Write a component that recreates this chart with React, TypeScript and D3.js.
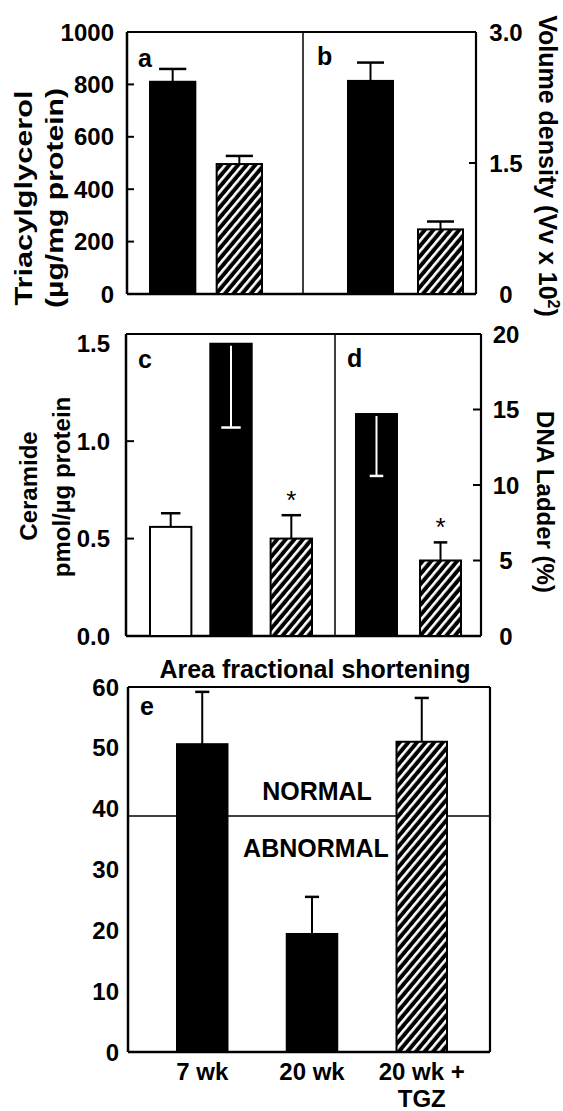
import React from 'react';
import * as d3 from 'd3';

const W = 563;
const H = 1111;
const FONT = '"Liberation Sans", Arial, Helvetica, sans-serif';

// panel a: triacylglycerol (µg/mg protein)
const tagGroups = ['20 wk', '20 wk + TGZ'];
const tagValues = [810, 496];
const tagErrors = [49, 31];
const tagFills = ['black', 'hatch'];
const tagTicks = [0, 200, 400, 600, 800, 1000];

// panel b: volume density (Vv x 10^2)
const volGroups = ['20 wk', '20 wk + TGZ'];
const volValues = [2.44, 0.74];
const volErrors = [0.21, 0.09];
const volFills = ['black', 'hatch'];
const volTicks = [0, 1.5, 3.0];

// panel c: ceramide (pmol/µg protein); negative error = drawn downwards in white
const cerGroups = ['7 wk', '20 wk', '20 wk + TGZ'];
const cerValues = [0.56, 1.5, 0.5];
const cerErrors = [0.07, -0.43, 0.12];
const cerFills = ['white', 'black', 'hatch'];
const cerStars = [false, false, true];
const cerTicks = [0, 0.5, 1.0, 1.5];

// panel d: DNA ladder (%)
const dnaGroups = ['20 wk', '20 wk + TGZ'];
const dnaValues = [14.7, 5.0];
const dnaErrors = [-4.1, 1.2];
const dnaFills = ['black', 'hatch'];
const dnaStars = [false, true];
const dnaTicks = [0, 5, 10, 15, 20];

// panel e: area fractional shortening
const afsGroups = ['7 wk', '20 wk', '20 wk + TGZ'];
const afsLabels = [['7 wk'], ['20 wk'], ['20 wk +', 'TGZ']];
const afsValues = [50.6, 19.4, 51.0];
const afsErrors = [8.6, 6.1, 7.2];
const afsFills = ['black', 'black', 'hatch'];
const afsTicks = [0, 10, 20, 30, 40, 50, 60];
const afsThreshold = 38.8;

type Band = d3.ScaleBand<string>;
type Lin = d3.ScaleLinear<number, number>;

function bars(key: string, groups: string[], values: number[], errors: number[], fills: string[],
  x: Band, y: Lin, capFrac: number, stars?: boolean[]) {
  const y0 = y(0);
  return groups.map((g, i) => {
    const bx = x(g)!;
    const bw = x.bandwidth();
    const top = y(values[i]);
    const cx = bx + bw / 2;
    const down = errors[i] < 0;
    const errEnd = y(values[i] + errors[i]);
    const col = down ? '#fff' : '#000';
    const cap = bw * capFrac;
    const fill = fills[i] === 'hatch' ? 'url(#hatch)' : fills[i];
    return (
      <g key={key + i}>
        <rect x={bx} y={top} width={bw} height={y0 - top} fill={fill} stroke="#000" strokeWidth={2} />
        <line x1={cx} x2={cx} y1={down ? top + 2 : top} y2={errEnd} stroke={col} strokeWidth={2} />
        <line x1={cx - cap / 2} x2={cx + cap / 2} y1={errEnd} y2={errEnd} stroke={col} strokeWidth={2.5} />
        {stars && stars[i] && (
          <text x={cx} y={errEnd - 6} textAnchor="middle" fontSize={26} fontWeight="normal">*</text>
        )}
      </g>
    );
  });
}

export default function App() {
  // ---- panels a & b
  const abTop = 32, abBottom = 294, abLeft = 127, abMid = 303, abRight = 476;
  const yTag = d3.scaleLinear().domain([0, 1000]).range([abBottom, abTop]);
  const yVol = d3.scaleLinear().domain([0, 3]).range([abBottom, abTop]);
  const xA = d3.scaleBand().domain(tagGroups).range([150, 262]).paddingInner(0.32);
  const xB = d3.scaleBand().domain(volGroups).range([348, 463]).paddingInner(0.357);

  // ---- panels c & d
  const cdTop = 334, cdBottom = 636, cdLeft = 126, cdMid = 335, cdRight = 481;
  const yCer = d3.scaleLinear().domain([0, 1.55]).range([cdBottom, cdTop]);
  const yDna = d3.scaleLinear().domain([0, 20]).range([cdBottom, cdTop]);
  const xC = d3.scaleBand().domain(cerGroups).range([150, 312]).paddingInner(0.314);
  const xD = d3.scaleBand().domain(dnaGroups).range([356, 461]).paddingInner(0.36);

  // ---- panel e
  const eTop = 687, eBottom = 1052, eLeft = 128, eRight = 490;
  const yAfs = d3.scaleLinear().domain([0, 60]).range([eBottom, eTop]);
  const xE = d3.scaleBand().domain(afsGroups).range([177, 447]).paddingInner(0.54);

  const fmtVol = (v: number) => (v === 0 ? '0' : d3.format('.1f')(v));

  return (
    <svg width={W} height={H} viewBox={`0 0 ${W} ${H}`}
      style={{ position: 'absolute', left: 0, top: 0, background: '#fff' }}
      fontFamily={FONT} fontWeight="bold" fill="#000">
      <defs>
        <pattern id="hatch" patternUnits="userSpaceOnUse" width={6.6} height={10} patternTransform="rotate(40)">
          <rect width={6.6} height={10} fill="#000" />
          <rect x={0} width={2.6} height={10} fill="#fff" />
        </pattern>
      </defs>

      {/* ===== a & b ===== */}
      <g stroke="#000" fill="none">
        <line x1={abLeft} x2={abLeft} y1={abTop} y2={abBottom} strokeWidth={2.5} />
        <line x1={abLeft} x2={abRight} y1={abBottom} y2={abBottom} strokeWidth={2.5} />
        <line x1={abLeft} x2={abRight} y1={abTop} y2={abTop} strokeWidth={1.8} />
        <line x1={abMid} x2={abMid} y1={abTop} y2={abBottom} strokeWidth={1.5} />
        <line x1={abRight} x2={abRight} y1={abTop} y2={abBottom} strokeWidth={2.2} />
        {tagTicks.slice(1, -1).map(t => (
          <line key={'ta' + t} x1={abLeft} x2={abLeft + 7} y1={yTag(t)} y2={yTag(t)} strokeWidth={2} />
        ))}
        {volTicks.slice(1, -1).map(t => (
          <line key={'tb' + t} x1={abRight - 7} x2={abRight} y1={yVol(t)} y2={yVol(t)} strokeWidth={2} />
        ))}
      </g>
      {tagTicks.map(t => (
        <text key={'la' + t} x={abLeft - 13} y={yTag(t)} dy="0.36em" textAnchor="end" fontSize={24}>{t}</text>
      ))}
      {volTicks.map(t => (
        <text key={'lb' + t} x={506} y={yVol(t)} dy="0.36em" textAnchor="middle" fontSize={24}>{fmtVol(t)}</text>
      ))}
      {bars('a', tagGroups, tagValues, tagErrors, tagFills, xA, yTag, 0.6)}
      {bars('b', volGroups, volValues, volErrors, volFills, xB, yVol, 0.6)}
      <text x={138} y={67} fontSize={25}>a</text>
      <text x={317} y={65} fontSize={25}>b</text>
      <text transform="translate(32,198) rotate(-90)" textAnchor="middle" fontSize={24}
        textLength={215} lengthAdjust="spacingAndGlyphs">Triacylglycerol</text>
      <text transform="translate(63,198) rotate(-90)" textAnchor="middle" fontSize={24}
        textLength={220} lengthAdjust="spacingAndGlyphs">(µg/mg protein)</text>
      <text transform="translate(539,166) rotate(90)" textAnchor="middle" fontSize={25}>
        Volume density (Vv x 10<tspan dy={-9} fontSize={16}>2</tspan><tspan dy={9}>)</tspan>
      </text>

      {/* ===== c & d ===== */}
      <g stroke="#000" fill="none">
        <line x1={cdLeft} x2={cdLeft} y1={cdTop} y2={cdBottom} strokeWidth={2.5} />
        <line x1={cdLeft} x2={cdRight} y1={cdBottom} y2={cdBottom} strokeWidth={2.5} />
        <line x1={cdLeft} x2={cdRight} y1={cdTop} y2={cdTop} strokeWidth={1.8} />
        <line x1={cdMid} x2={cdMid} y1={cdTop} y2={cdBottom} strokeWidth={1.5} />
        <line x1={cdRight} x2={cdRight} y1={cdTop} y2={cdBottom} strokeWidth={2.2} />
        {cerTicks.slice(1, -1).map(t => (
          <line key={'tc' + t} x1={cdLeft} x2={cdLeft + 8} y1={yCer(t)} y2={yCer(t)} strokeWidth={2} />
        ))}
        {dnaTicks.slice(1, -1).map(t => (
          <line key={'td' + t} x1={cdRight - 8} x2={cdRight} y1={yDna(t)} y2={yDna(t)} strokeWidth={2} />
        ))}
      </g>
      {cerTicks.map(t => (
        <text key={'lc' + t} x={cdLeft - 16} y={yCer(t)} dy="0.36em" textAnchor="end" fontSize={24}>{d3.format('.1f')(t)}</text>
      ))}
      {dnaTicks.map(t => (
        <text key={'ld' + t} x={506} y={yDna(t)} dy="0.36em" textAnchor="middle" fontSize={24}>{t}</text>
      ))}
      {bars('c', cerGroups, cerValues, cerErrors, cerFills, xC, yCer, 0.47, cerStars)}
      {bars('d', dnaGroups, dnaValues, dnaErrors, dnaFills, xD, yDna, 0.33, dnaStars)}
      <text x={138} y={368} fontSize={25}>c</text>
      <text x={347} y={367} fontSize={25}>d</text>
      <text transform="translate(37,486) rotate(-90)" textAnchor="middle" fontSize={24}>Ceramide</text>
      <text transform="translate(70,487) rotate(-90)" textAnchor="middle" fontSize={24}>pmol/µg protein</text>
      <text transform="translate(537,502) rotate(90)" textAnchor="middle" fontSize={24}>DNA Ladder (%)</text>

      {/* ===== e ===== */}
      <text x={315} y={678} textAnchor="middle" fontSize={25}>Area fractional shortening</text>
      <line x1={eLeft} x2={eRight} y1={yAfs(afsThreshold)} y2={yAfs(afsThreshold)} stroke="#000" strokeWidth={1.6} />
      <text x={317} y={800} textAnchor="middle" fontSize={25}>NORMAL</text>
      <text x={316} y={857} textAnchor="middle" fontSize={25}>ABNORMAL</text>
      {bars('e', afsGroups, afsValues, afsErrors, afsFills, xE, yAfs, 0.28)}
      <g stroke="#000" fill="none">
        <line x1={eLeft} x2={eLeft} y1={eTop} y2={eBottom} strokeWidth={2.5} />
        <line x1={eLeft} x2={eRight} y1={eBottom} y2={eBottom} strokeWidth={2.5} />
        <line x1={eLeft} x2={eRight} y1={eTop} y2={eTop} strokeWidth={1.8} />
        <line x1={eRight} x2={eRight} y1={eTop} y2={eBottom} strokeWidth={2.2} />
      </g>
      {afsTicks.map(t => (
        <text key={'le' + t} x={eLeft - 9} y={yAfs(t)} dy="0.36em" textAnchor="end" fontSize={24}>{t}</text>
      ))}
      <text x={140} y={715} fontSize={25}>e</text>
      {afsGroups.map((g, i) => (
        <text key={'xe' + g} x={xE(g)! + xE.bandwidth() / 2} y={1080} textAnchor="middle" fontSize={24}>
          {afsLabels[i].map((s, j) => (
            <tspan key={s} x={xE(g)! + xE.bandwidth() / 2} dy={j === 0 ? 0 : 27}>{s}</tspan>
          ))}
        </text>
      ))}
    </svg>
  );
}
